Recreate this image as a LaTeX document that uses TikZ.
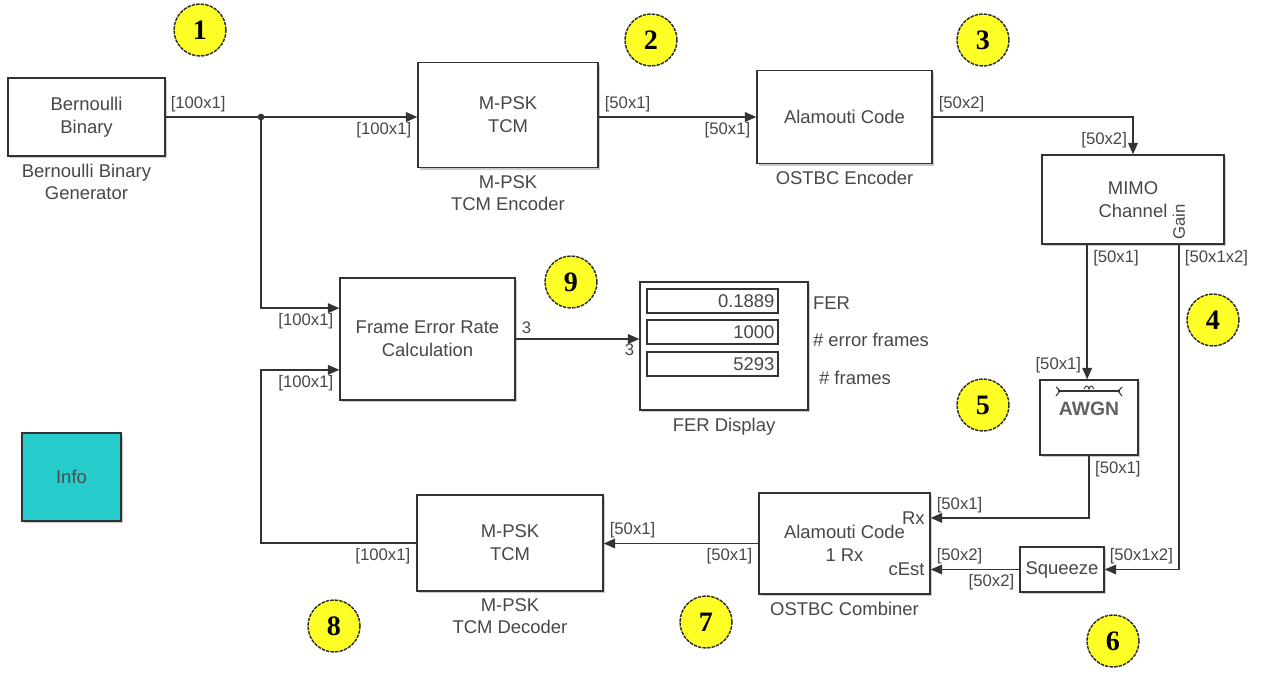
\documentclass[tikz,border=0pt]{standalone}
\usepackage{fontspec}
\setmainfont{Liberation Sans}
\newfontfamily\numfont{Liberation Serif}
\usetikzlibrary{arrows.meta,positioning,calc,shadows}
\colorlet{myink}{black!80}
\colorlet{mytext}{black!72}
\definecolor{myyellow}{RGB}{255,255,40}
\definecolor{mycyan}{RGB}{38,204,204}

\begin{document}
\begin{tikzpicture}[
  x=0.02cm, y=-0.02cm,
  blk/.style ={draw=myink, line width=0.8pt, fill=white, align=center, text=mytext, inner sep=0pt,
               font=\fontsize{10.5}{13}\selectfont,
               drop shadow={shadow xshift=1.2pt, shadow yshift=-1.2pt, fill=black!35, opacity=0.6}},
  blklbl/.style ={font=\fontsize{10.5}{12.5}\selectfont, text=mytext, align=center, inner sep=1pt},
  port/.style={font=\fontsize{9.5}{11}\selectfont, text=mytext, inner sep=1pt},
  sig/.style ={draw=myink, line width=0.8pt, -{Triangle[length=6.5pt,width=5.5pt]}},
  wire/.style={draw=myink, line width=0.8pt},
  tagnum/.style ={circle, draw=black!85, dash pattern=on 2pt off 0.6pt, line width=0.8pt, fill=myyellow,
               minimum size=1.04cm, inner sep=0pt, font=\numfont\bfseries\fontsize{16}{16}\selectfont},
  cell/.style={draw=myink, line width=0.7pt, text width=2.48cm, minimum height=0.48cm, inner sep=2pt,
               align=right, text=mytext, font=\fontsize{10.5}{12}\selectfont},
]
\useasboundingbox (0,0) rectangle (1271,673);

% ==================================================== transmitter row
\node[blk, minimum width=3.14cm, minimum height=1.56cm] (bern) at (86.5,117) {Bernoulli\\Binary};
\node[blklbl, below=3pt of bern] (bernlbl) {Bernoulli Binary\\Generator};

\node[blk, minimum width=3.6cm, minimum height=2.1cm] (tcmenc) at (508,115) {M-PSK\\TCM};
\node[blklbl, below=3pt of tcmenc] (tcmenclbl) {M-PSK\\TCM Encoder};

\node[blk, minimum width=3.5cm, minimum height=1.86cm] (ostbcenc) at (844.5,117) {Alamouti Code};
\node[blklbl, below=3pt of ostbcenc] (ostbcenclbl) {OSTBC Encoder};

\node[blk, minimum width=3.64cm, minimum height=1.78cm] (mimo) at (1133,199.5) {MIMO\\Channel};

% ==================================================== error rate and display
\node[blk, minimum width=3.5cm, minimum height=2.44cm] (ferc) at (427.5,339) {Frame Error Rate\\Calculation};

\node[blk, minimum width=3.36cm, minimum height=2.56cm] (ferd) at (724,346) {};
\node[blklbl, below=3pt of ferd] (ferdlbl) {FER Display};
\node[cell] (cfer) at (712.5,301) {0.1889};
\node[cell] (cerr) at (712.5,332) {1000};
\node[cell] (cfrm) at (712.5,364) {5293};
\node[blklbl, anchor=west] (lfer) at (811,303) {FER};
\node[blklbl, anchor=west] (lerr) at (811,340) {\# error frames};
\node[blklbl, anchor=west] (lfrm) at (817,378) {\# frames};

% ==================================================== receiver row
\node[blk, minimum width=1.96cm, minimum height=1.5cm] (awgn) at (1089,417.5) {};
\draw[myink, line width=0.6pt] (1058,391) -- (1120,391);
\draw[myink, line width=0.6pt] (1056,387) -- (1060,391) -- (1056,396);
\draw[myink, line width=0.6pt] (1122,387) -- (1118,391) -- (1122,396);
\draw[myink, line width=0.5pt] (1084,389) .. controls (1086,385) and (1088,385) .. (1089,389)
                                           .. controls (1090,385) and (1092,385) .. (1094,389);
\node[font=\bfseries\fontsize{11}{12}\selectfont, text=black!62] (awgntxt) at (1089,409) {AWGN};

\node[blk, minimum width=3.42cm, minimum height=2.02cm] (comb) at (844.5,543.5) {Alamouti Code\\1 Rx};
\node[blklbl, below=3pt of comb] (comblbl) {OSTBC Combiner};

\node[blk, minimum width=1.68cm, minimum height=0.9cm] (sqz) at (1062,569.5) {Squeeze};

\node[blk, minimum width=3.72cm, minimum height=1.92cm] (tcmdec) at (510,543) {M-PSK\\TCM};
\node[blklbl, below=3pt of tcmdec] (tcmdeclbl) {M-PSK\\TCM Decoder};

\node[blk, fill=mycyan, text=black!70, minimum width=1.98cm, minimum height=1.76cm] (info) at (71.5,477) {Info};

% ==================================================== ports
\coordinate (j)    at (261,117);
\coordinate (fin1) at ($(ferc.north west)!0.25!(ferc.south west)$);
\coordinate (fin2) at ($(ferc.north west)!0.75!(ferc.south west)$);
\coordinate (fdin) at (ferc.east -| ferd.west);
\coordinate (m1)   at ($(mimo.south west)!0.25!(mimo.south east)$);
\coordinate (m2)   at ($(mimo.south west)!0.75!(mimo.south east)$);
\coordinate (cin1) at ($(comb.north east)!0.25!(comb.south east)$);
\coordinate (cin2) at ($(comb.north east)!0.75!(comb.south east)$);

\node[port, rotate=90, anchor=west] (gain) at ($(m2)+(0,-3)$) {Gain};
\node[port, font=\fontsize{10.5}{12}\selectfont, anchor=east] (rxp) at ($(cin1)+(-4,0)$) {Rx};
\node[port, font=\fontsize{10.5}{12}\selectfont, anchor=east] (cestp) at ($(cin2)+(-4,0)$) {cEst};

% ==================================================== signal lines
\draw[wire] (bern.east) -- (j);
\draw[sig] (j) -- (tcmenc.west |- j);
\fill[myink] (j) circle (1.9pt);
\draw[sig] (j) |- (fin1);
\draw[sig] (tcmenc.east |- ostbcenc.west) -- (ostbcenc.west);
\draw[sig] (ostbcenc.east) -| (mimo.north);
\draw[sig] (m1) -- (m1 |- awgn.north);
\draw[sig] (m2) |- (sqz.east);
\draw[sig] (awgn.south) |- (cin1);
\draw[sig] (sqz.west) -- (sqz.west -| comb.east);
\draw[sig] (comb.west) -- (comb.west -| tcmdec.east);
\draw[sig] (tcmdec.west) -- (tcmdec.west -| j) |- (fin2);
\draw[sig] (ferc.east) -- (fdin);

% ==================================================== dimension labels
\node[port, anchor=south west] at ($(bern.east)+(3,-3)$) {[100x1]};
\node[port, anchor=north east] at ($(tcmenc.west |- j)+(-4,3)$) {[100x1]};
\node[port, anchor=south west] at ($(tcmenc.east |- ostbcenc.west)+(4,-3)$) {[50x1]};
\node[port, anchor=north east] at ($(ostbcenc.west)+(-4,3)$) {[50x1]};
\node[port, anchor=south west] at ($(ostbcenc.east)+(4,-3)$) {[50x2]};
\node[port, anchor=south east] at ($(mimo.north)+(-4,-4)$) {[50x2]};
\node[port, anchor=north west] at ($(m1)+(4,4)$) {[50x1]};
\node[port, anchor=north west] at ($(m2)+(4,4)$) {[50x1x2]};
\node[port, anchor=south east] at ($(m1 |- awgn.north)+(-4,-4)$) {[50x1]};
\node[port, anchor=north west] at ($(awgn.south)+(4,4)$) {[50x1]};
\node[port, anchor=south west] at ($(cin1)+(4,-3)$) {[50x1]};
\node[port, anchor=south west] at ($(sqz.east)+(3,-3)$) {[50x1x2]};
\node[port, anchor=north east] at ($(sqz.west)+(-3,3)$) {[50x2]};
\node[port, anchor=south west] at ($(sqz.west -| comb.east)+(4,-3)$) {[50x2]};
\node[port, anchor=north east] at ($(comb.west)+(-4,3)$) {[50x1]};
\node[port, anchor=south west] at ($(comb.west -| tcmdec.east)+(4,-3)$) {[50x1]};
\node[port, anchor=north east] at ($(tcmdec.west)+(-4,3)$) {[100x1]};
\node[port, anchor=north east] at ($(fin1)+(-4,3)$) {[100x1]};
\node[port, anchor=north east] at ($(fin2)+(-4,3)$) {[100x1]};
\node[port, anchor=south west] at ($(ferc.east)+(4,-3)$) {3};
\node[port, anchor=north east] at ($(fdin)+(-3,3)$) {3};

% ==================================================== stage numbers
\node[tagnum] (t1) at (200,30)  {1};
\node[tagnum] (t2) at (651,40)  {2};
\node[tagnum] (t3) at (983,40)  {3};
\node[tagnum] (t4) at (1213,320) {4};
\node[tagnum] (t5) at (983,405) {5};
\node[tagnum] (t6) at (1113,641) {6};
\node[tagnum] (t7) at (706,622) {7};
\node[tagnum] (t8) at (334,626) {8};
\node[tagnum] (t9) at (571,282) {9};

\end{tikzpicture}
\end{document}
